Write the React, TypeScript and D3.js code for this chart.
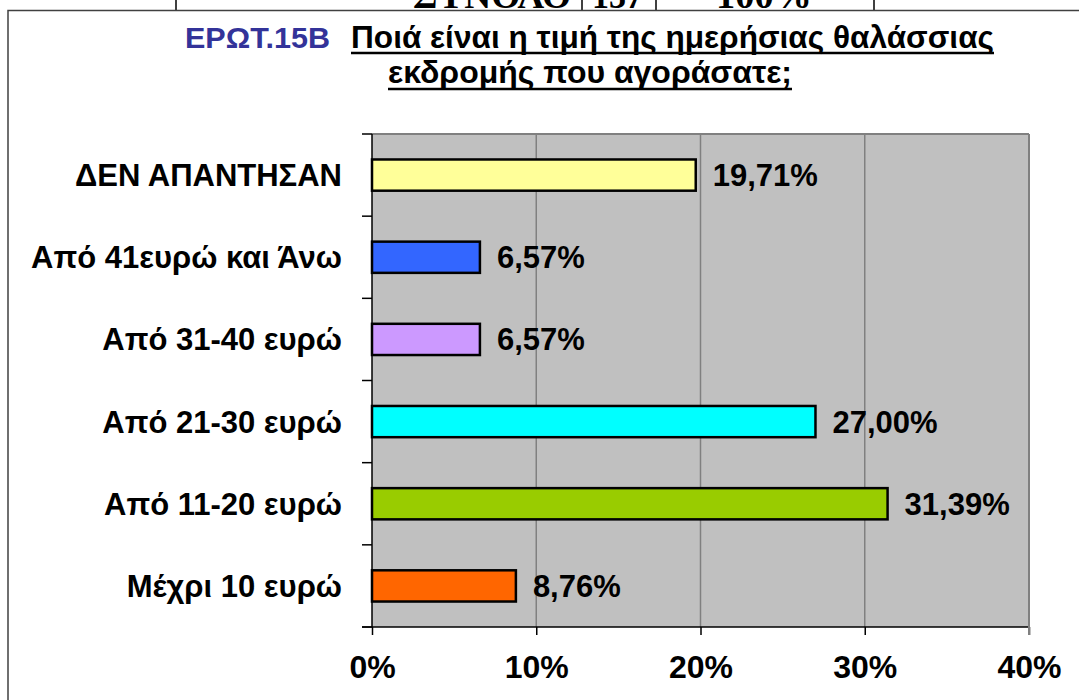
import React, { useEffect, useRef } from 'react';
import * as d3 from 'd3';

// data
const categories = [
  'ΔΕΝ ΑΠΑΝΤΗΣΑΝ',
  'Από 41ευρώ και Άνω',
  'Από 31-40 ευρώ',
  'Από 21-30 ευρώ',
  'Από 11-20 ευρώ',
  'Μέχρι 10 ευρώ',
];
const values = [19.71, 6.57, 6.57, 27.0, 31.39, 8.76];
const barColors = ['#FFFF99', '#3366FF', '#CC99FF', '#00FFFF', '#99CC00', '#FF6600'];
const xTicks = [0, 10, 20, 30, 40];

const titleCode = 'ΕΡΩΤ.15Β';
const titleLine1 = 'Ποιά είναι η τιμή της ημερήσιας θαλάσσιας';
const titleLine2 = 'εκδρομής που αγοράσατε;';

// the cut off table row above the chart
const tableTexts = ['ΣΥΝΟΛΟ', '137', '100%'];

const App = () => {
  const ref = useRef<SVGSVGElement>(null);

  useEffect(() => {
    const svg = d3.select(ref.current);
    svg.selectAll('*').remove();

    const W = 1079;
    const H = 700;
    const font = 'Liberation Sans, Arial, sans-serif';

    svg.append('rect').attr('width', W).attr('height', H).attr('fill', '#fff');

    // table remnant at the top
    [176, 582, 656, 874].forEach(x => {
      svg.append('line')
        .attr('x1', x).attr('x2', x).attr('y1', 0).attr('y2', 10)
        .attr('stroke', '#000').attr('stroke-width', 1.5);
    });
    const tablePos = [[413, 571], [592, 643], [716, 812]];
    tableTexts.forEach((t, i) => {
      svg.append('text')
        .attr('x', tablePos[i][0]).attr('y', 8)
        .attr('textLength', tablePos[i][1] - tablePos[i][0])
        .attr('lengthAdjust', 'spacingAndGlyphs')
        .attr('font-family', 'Liberation Serif, Times New Roman, serif')
        .attr('font-weight', 'bold').attr('font-size', 36)
        .text(t);
    });

    // chart frame
    svg.append('rect')
      .attr('x', 8).attr('y', 10.5).attr('width', W + 20).attr('height', H)
      .attr('fill', '#fff').attr('stroke', '#404040').attr('stroke-width', 1.5);

    // title
    svg.append('text')
      .attr('x', 185).attr('y', 48)
      .attr('textLength', 145).attr('lengthAdjust', 'spacingAndGlyphs')
      .attr('font-family', font).attr('font-weight', 'bold').attr('font-size', 29)
      .attr('fill', '#333399')
      .text(titleCode);
    const lines = [
      { t: titleLine1, x0: 351, x1: 994, y: 48, u: 53 },
      { t: titleLine2, x0: 388, x1: 792, y: 83, u: 89 },
    ];
    lines.forEach(l => {
      svg.append('text')
        .attr('x', l.x0).attr('y', l.y)
        .attr('textLength', l.x1 - l.x0).attr('lengthAdjust', 'spacingAndGlyphs')
        .attr('font-family', font).attr('font-weight', 'bold').attr('font-size', 32)
        .attr('fill', '#000')
        .text(l.t);
      svg.append('line')
        .attr('x1', l.x0).attr('x2', l.x1).attr('y1', l.u).attr('y2', l.u)
        .attr('stroke', '#000').attr('stroke-width', 2.5);
    });

    // plot area
    const left = 372, right = 1029, top = 134, bottom = 627;

    const x = d3.scaleLinear().domain([0, 40]).range([left, right]);
    const y = d3.scaleBand()
      .domain(categories)
      .range([top, bottom])
      .paddingInner(0.62)
      .paddingOuter(0.31);

    svg.append('rect')
      .attr('x', left).attr('y', top)
      .attr('width', right - left).attr('height', bottom - top)
      .attr('fill', '#C0C0C0');

    // gridlines
    svg.append('g')
      .selectAll('line')
      .data(xTicks.slice(1))
      .enter()
      .append('line')
      .attr('x1', d => x(d)).attr('x2', d => x(d))
      .attr('y1', top).attr('y2', bottom)
      .attr('stroke', '#808080').attr('stroke-width', 1.5);

    // top border of plot
    svg.append('line')
      .attr('x1', left).attr('x2', right).attr('y1', top).attr('y2', top)
      .attr('stroke', '#808080').attr('stroke-width', 2);

    // bars
    svg.append('g')
      .selectAll('rect')
      .data(values)
      .enter()
      .append('rect')
      .attr('x', x(0))
      .attr('y', (d, i) => y(categories[i]))
      .attr('width', d => x(d) - x(0))
      .attr('height', y.bandwidth())
      .attr('fill', (d, i) => barColors[i])
      .attr('stroke', '#000')
      .attr('stroke-width', 2.5);

    // value labels
    svg.append('g')
      .selectAll('text')
      .data(values)
      .enter()
      .append('text')
      .attr('x', d => x(d) + 17)
      .attr('y', (d, i) => y(categories[i]) + y.bandwidth() / 2 + 11)
      .attr('font-family', font).attr('font-weight', 'bold').attr('font-size', 31)
      .text(d => d.toFixed(2).replace('.', ',') + '%');

    // x axis
    const xAxis = svg.append('g')
      .attr('transform', `translate(0, ${bottom})`)
      .call(d3.axisBottom(x).tickValues(xTicks).tickSize(8).tickFormat(d => `${d}%`));
    xAxis.select('.domain').remove();
    xAxis.selectAll('line').attr('stroke', '#000').attr('stroke-width', 1.5);
    xAxis.selectAll('text')
      .attr('y', 51).attr('dy', null)
      .attr('font-family', font).attr('font-weight', 'bold').attr('font-size', 32)
      .attr('fill', '#000');
    svg.append('line')
      .attr('x1', left - 10).attr('x2', right).attr('y1', bottom).attr('y2', bottom)
      .attr('stroke', '#000').attr('stroke-width', 1.5);

    // y axis: ticks between the categories
    const step = y.step();
    const yTicks = d3.range(categories.length + 1).map(i => top + i * step);
    svg.append('line')
      .attr('x1', left).attr('x2', left).attr('y1', top).attr('y2', bottom)
      .attr('stroke', '#000').attr('stroke-width', 1.5);
    svg.append('g')
      .selectAll('line')
      .data(yTicks)
      .enter()
      .append('line')
      .attr('x1', left - 10).attr('x2', left)
      .attr('y1', d => d).attr('y2', d => d)
      .attr('stroke', '#000').attr('stroke-width', 1.5);

    // right border
    svg.append('line')
      .attr('x1', right).attr('x2', right).attr('y1', top).attr('y2', bottom + 8)
      .attr('stroke', '#808080').attr('stroke-width', 2);

    // category labels
    svg.append('g')
      .selectAll('text')
      .data(categories)
      .enter()
      .append('text')
      .attr('x', 342)
      .attr('y', d => y(d) + y.bandwidth() / 2 + 11)
      .attr('text-anchor', 'end')
      .attr('font-family', font).attr('font-weight', 'bold').attr('font-size', 31)
      .text(d => d);
  }, []);

  return (
    <svg ref={ref} width={1079} height={700}
      style={{ position: 'absolute', left: 0, top: 0, display: 'block' }} />
  );
};

export default App;
